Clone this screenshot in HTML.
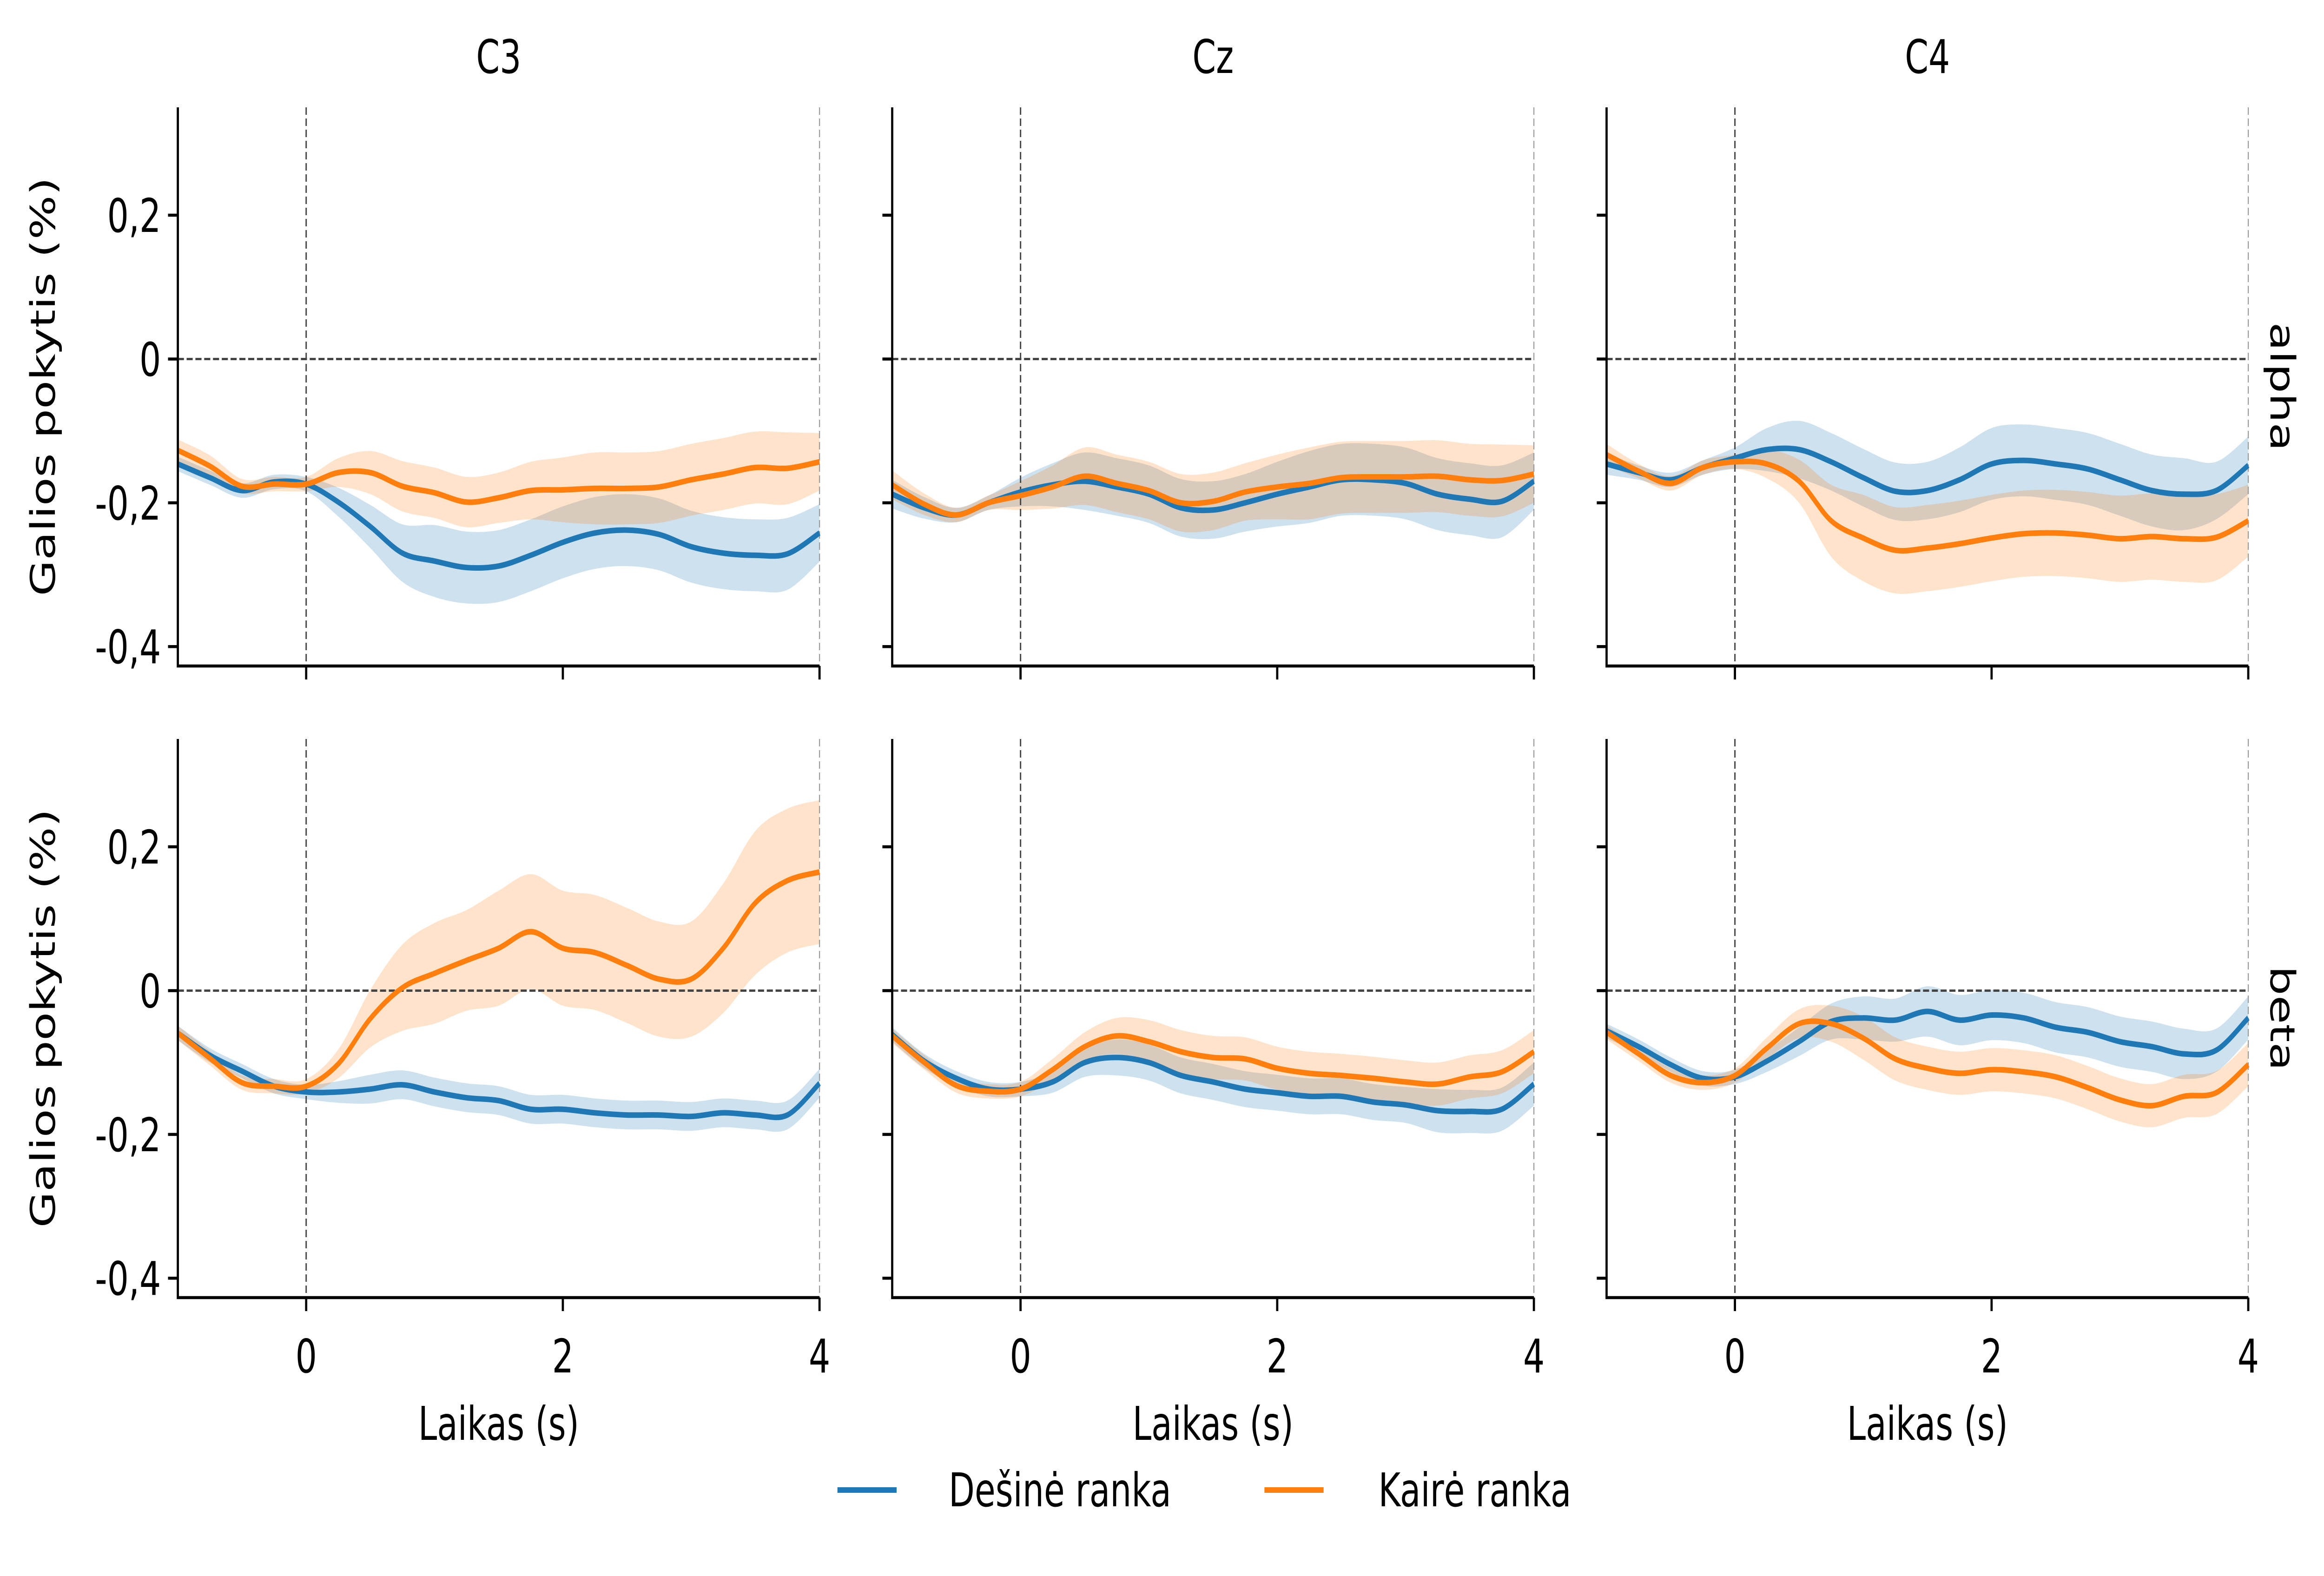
<!DOCTYPE html>
<html><head><meta charset="utf-8"><style>
html,body{margin:0;padding:0;background:#fff;overflow:hidden;width:100%;height:100%}
svg{display:block;width:100vw;height:100vh}
text{font-family:"DejaVu Sans","Liberation Sans",sans-serif;fill:#000}
</style></head><body>
<svg id="chart" xmlns="http://www.w3.org/2000/svg" viewBox="0 0 6874 3391" preserveAspectRatio="none">
<g id="root"></g>
</svg>
<script>
const times = [-1,-0.75,-0.5,-0.25,0,0.25,0.5,0.75,1,1.25,1.5,1.75,2,2.25,2.5,2.75,3,3.25,3.5,3.75,4];
const channels = ["C3","Cz","C4"];
const bands = ["alpha","beta"];
const yTicks = [0.2,0,-0.2,-0.4];
const yTickLabels = ["0,2","0","-0,2","-0,4"];
const xTicks = [0,2,4];
const xTickLabels = ["0","2","4"];
const seriesNames = ["Dešinė ranka","Kairė ranka"];

const c3AlphaRight = [-0.146,-0.165,-0.183,-0.171,-0.174,-0.199,-0.233,-0.27,-0.281,-0.29,-0.288,-0.273,-0.255,-0.242,-0.238,-0.244,-0.261,-0.270,-0.273,-0.271,-0.242];
const c3AlphaLeft = [-0.127,-0.149,-0.177,-0.174,-0.174,-0.158,-0.158,-0.177,-0.186,-0.199,-0.193,-0.183,-0.182,-0.180,-0.180,-0.178,-0.168,-0.160,-0.151,-0.152,-0.143];
const czAlphaRight = [-0.188,-0.207,-0.217,-0.200,-0.185,-0.175,-0.170,-0.178,-0.188,-0.207,-0.210,-0.200,-0.188,-0.178,-0.168,-0.168,-0.173,-0.188,-0.195,-0.198,-0.170];
const czAlphaLeft = [-0.175,-0.202,-0.217,-0.200,-0.190,-0.178,-0.163,-0.173,-0.183,-0.200,-0.198,-0.185,-0.178,-0.173,-0.165,-0.164,-0.164,-0.163,-0.168,-0.169,-0.160];
const c4AlphaRight = [-0.146,-0.158,-0.168,-0.151,-0.138,-0.126,-0.126,-0.143,-0.165,-0.184,-0.183,-0.168,-0.146,-0.141,-0.146,-0.153,-0.168,-0.183,-0.188,-0.183,-0.148];
const c4AlphaLeft = [-0.133,-0.156,-0.173,-0.151,-0.143,-0.146,-0.170,-0.225,-0.249,-0.266,-0.263,-0.257,-0.249,-0.243,-0.242,-0.245,-0.250,-0.247,-0.250,-0.248,-0.225];
const c3BetaRight = [-0.059,-0.090,-0.112,-0.133,-0.141,-0.141,-0.137,-0.131,-0.141,-0.149,-0.153,-0.165,-0.165,-0.170,-0.173,-0.173,-0.175,-0.170,-0.173,-0.173,-0.129];
const c3BetaLeft = [-0.059,-0.094,-0.128,-0.133,-0.133,-0.102,-0.039,0.004,0.024,0.042,0.059,0.082,0.059,0.053,0.035,0.016,0.016,0.059,0.122,0.153,0.165];
const czBetaRight = [-0.061,-0.098,-0.122,-0.137,-0.137,-0.127,-0.100,-0.093,-0.100,-0.118,-0.127,-0.137,-0.142,-0.147,-0.147,-0.155,-0.159,-0.167,-0.168,-0.165,-0.130];
const czBetaLeft = [-0.063,-0.100,-0.132,-0.140,-0.137,-0.110,-0.078,-0.063,-0.071,-0.085,-0.093,-0.095,-0.108,-0.115,-0.118,-0.122,-0.127,-0.130,-0.120,-0.113,-0.085];
const c4BetaRight = [-0.056,-0.078,-0.103,-0.122,-0.120,-0.098,-0.071,-0.043,-0.038,-0.041,-0.029,-0.041,-0.034,-0.038,-0.051,-0.058,-0.071,-0.078,-0.088,-0.083,-0.038];
const c4BetaLeft = [-0.058,-0.088,-0.118,-0.128,-0.118,-0.080,-0.046,-0.046,-0.066,-0.095,-0.108,-0.115,-0.110,-0.113,-0.120,-0.135,-0.152,-0.160,-0.147,-0.142,-0.103];

const c3AlphaRightSpread = [.01,.01,.01,.01,.01,.02,.03,.04,.05,.05,.05,.05,.05,.05,.05,.05,.05,.05,.05,.05,.04];
const c3AlphaLeftSpread = [.015,.015,.01,.01,.01,.02,.03,.035,.035,.035,.035,.04,.045,.05,.05,.05,.05,.05,.05,.05,.04];
const czAlphaRightSpread = [.02,.015,.01,.01,.02,.03,.04,.04,.04,.04,.04,.04,.045,.05,.05,.05,.05,.05,.05,.05,.04];
const czAlphaLeftSpread = [.02,.015,.01,.01,.02,.03,.04,.04,.04,.04,.04,.04,.045,.05,.05,.05,.05,.05,.05,.05,.04];
const c4AlphaRightSpread = [.015,.01,.01,.01,.015,.03,.04,.04,.04,.04,.04,.045,.05,.05,.05,.05,.05,.05,.05,.04,.04];
const c4AlphaLeftSpread = [.015,.01,.01,.01,.01,.02,.03,.05,.06,.06,.06,.06,.06,.06,.06,.06,.06,.06,.06,.06,.05];
const c3BetaRightSpread = [.01,.01,.01,.01,.01,.015,.02,.02,.02,.02,.02,.02,.02,.02,.02,.02,.02,.02,.02,.02,.02];
const c3BetaLeftSpread = [.01,.01,.01,.01,.01,.02,.04,.06,.07,.07,.08,.08,.08,.08,.08,.08,.08,.09,.1,.1,.1];
const czBetaRightSpread = [.01,.01,.01,.01,.01,.015,.02,.025,.025,.025,.025,.025,.025,.025,.025,.025,.025,.03,.03,.03,.03];
const czBetaLeftSpread = [.01,.01,.01,.01,.01,.015,.02,.025,.03,.03,.03,.03,.03,.03,.03,.03,.03,.03,.03,.03,.03];
const c4BetaRightSpread = [.01,.01,.01,.01,.01,.015,.02,.025,.03,.03,.035,.035,.035,.035,.035,.035,.035,.035,.035,.03,.03];
const c4BetaLeftSpread = [.01,.01,.01,.01,.01,.015,.02,.025,.03,.03,.03,.03,.03,.03,.03,.03,.03,.03,.03,.03,.03];

const means = [[[c3AlphaRight,c3AlphaLeft],[czAlphaRight,czAlphaLeft],[c4AlphaRight,c4AlphaLeft]],
               [[c3BetaRight,c3BetaLeft],[czBetaRight,czBetaLeft],[c4BetaRight,c4BetaLeft]]];
const spreads = [[[c3AlphaRightSpread,c3AlphaLeftSpread],[czAlphaRightSpread,czAlphaLeftSpread],[c4AlphaRightSpread,c4AlphaLeftSpread]],
                 [[c3BetaRightSpread,c3BetaLeftSpread],[czBetaRightSpread,czBetaLeftSpread],[c4BetaRightSpread,c4BetaLeftSpread]]];

const NS="http://www.w3.org/2000/svg";
const root=document.getElementById('root');
const colors=["#1f77b4","#ff7f0e"];
const colLeft=[526,2639,4752], axW=1898;
const rowTop=[231,1590], axH=1202;
const xMin=-1,xMax=4,yMin=-0.427,yMax=0.35;
function el(tag,attrs,parent){const e=document.createElementNS(NS,tag);for(const k in attrs)e.setAttribute(k,attrs[k]);(parent||root).appendChild(e);return e;}
function xs(c,t){return colLeft[c]+(t-xMin)/(xMax-xMin)*axW;}
function ys(r,v){return rowTop[r]+(yMax-v)/(yMax-yMin)*axH;}
function smoothPath(pts){let d=`M${pts[0][0]},${pts[0][1]}`;
  for(let i=0;i<pts.length-1;i++){const p0=pts[Math.max(0,i-1)],p1=pts[i],p2=pts[i+1],p3=pts[Math.min(pts.length-1,i+2)];
    const c1=[p1[0]+(p2[0]-p0[0])/6,p1[1]+(p2[1]-p0[1])/6],c2=[p2[0]-(p3[0]-p1[0])/6,p2[1]-(p3[1]-p1[1])/6];
    d+=` C${c1[0]},${c1[1]} ${c2[0]},${c2[1]} ${p2[0]},${p2[1]}`;}
  return d;}

for(let r=0;r<2;r++){for(let c=0;c<3;c++){
  const g=el('g',{});
  
  
  const x0=colLeft[c], yb=rowTop[r]+axH;
  for(let s=0;s<2;s++){
    const m=means[r][c][s], sp=spreads[r][c][s];
    const up=times.map((t,i)=>[xs(c,t),ys(r,m[i]+sp[i])]);
    const lo=times.map((t,i)=>[xs(c,t),ys(r,m[i]-sp[i])]).reverse();
    const d=smoothPath(up)+' L'+smoothPath(lo).slice(1)+' Z';
    const b=el('path',{d:d,fill:colors[s],'fill-opacity':0.22,stroke:'none'},g);
    
    
  }
  const h0=el('line',{x1:x0,x2:x0+axW,y1:ys(r,0),y2:ys(r,0),stroke:'#444','stroke-width':5,'stroke-dasharray':'18 8'},g);
  
  
  const v0=el('line',{x1:xs(c,0),x2:xs(c,0),y1:rowTop[r],y2:yb,stroke:'#444','stroke-width':4,'stroke-dasharray':'16 8'},g);
  
  
  const v4=el('line',{x1:xs(c,4),x2:xs(c,4),y1:rowTop[r],y2:yb,stroke:'#999','stroke-width':3,'stroke-dasharray':'16 8'},g);
  
  
  for(let s=0;s<2;s++){
    const m=means[r][c][s];
    const p=el('path',{d:smoothPath(times.map((t,i)=>[xs(c,t),ys(r,m[i])])),fill:'none',stroke:colors[s],'stroke-width':12,'stroke-linejoin':'round'},g);
    
    
  }
  const ax=el('path',{d:`M${x0},${rowTop[r]} V${yb} H${x0+axW}`,fill:'none',stroke:'#000','stroke-width':6.5},g);
  
  
  yTicks.forEach((v,i)=>{
    const y=ys(r,v);
    const tk=el('line',{x1:x0-29,x2:x0,y1:y,y2:y,stroke:'#000','stroke-width':6.5},g);
    
    
    if(c===0){const tl=el('text',{x:x0-50,y:y+36,'text-anchor':'end','font-size':100},g);tl.textContent=yTickLabels[i];
      
      }
  });
  xTicks.forEach((t,i)=>{
    const x=xs(c,t);
    const tk=el('line',{x1:x,x2:x,y1:yb,y2:yb+29,stroke:'#000','stroke-width':6.5},g);
    
    
    if(r===1){const tl=el('text',{x:x,y:2953,'text-anchor':'middle','font-size':100},g);tl.textContent=xTickLabels[i];
      
      }
  });
  if(r===0){const tt=el('text',{x:x0+axW/2,y:157,'text-anchor':'middle','font-size':100},g);tt.textContent=channels[c];
    
    }
  if(r===1){const xl=el('text',{x:x0+axW/2,y:3098,'text-anchor':'middle','font-size':100},g);xl.textContent='Laikas (s)';
    
    }
  if(c===0){const cy=rowTop[r]+axH/2;const yl=el('text',{x:0,y:0,'text-anchor':'middle','font-size':100,transform:`translate(162,${cy}) rotate(-90)`},g);yl.textContent='Galios pokytis (%)';
    
    }
  if(c===2){const cy=rowTop[r]+axH/2;const rl=el('text',{x:0,y:0,'text-anchor':'middle','font-size':100,transform:`translate(6716,${cy}) rotate(90)`},g);rl.textContent=bands[r];
    
    }
}}
const lg=el('g',{});


const legX=[[2477,2652,2806],[3740,3915,4077]];
for(let s=0;s<2;s++){
  const ln=el('line',{x1:legX[s][0],x2:legX[s][1],y1:3206,y2:3206,stroke:colors[s],'stroke-width':12},lg);
  
  
  const tx=el('text',{x:legX[s][2],y:3241,'font-size':100},lg);tx.textContent=seriesNames[s];
  
  
}
</script>
</body></html>
